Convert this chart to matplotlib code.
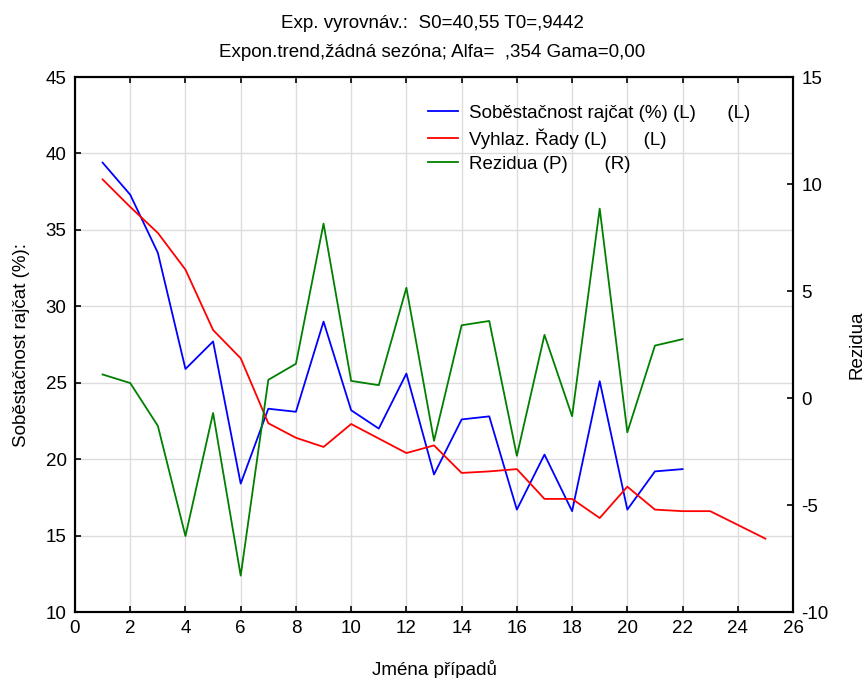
import numpy as np
import matplotlib.pyplot as plt

plt.rcParams['font.family'] = ['Liberation Sans', 'DejaVu Sans']
plt.rcParams['axes.unicode_minus'] = False

# data
x_obs = np.arange(1, 23)
x_smooth = np.arange(1, 26)
sobestacnost = [39.4, 37.3, 33.5, 25.9, 27.7, 18.4, 23.3, 23.1, 29.0, 23.2, 22.0,
                25.6, 19.0, 22.6, 22.8, 16.7, 20.3, 16.6, 25.1, 16.7, 19.2, 19.35]
vyhlaz = [38.3, 36.5, 34.8, 32.4, 28.45, 26.6, 22.35, 21.4, 20.8, 22.3, 21.35, 20.4,
          20.9, 19.1, 19.2, 19.35, 17.4, 17.4, 16.15, 18.2, 16.7, 16.6, 16.6, 15.7, 14.8]
rezidua = [1.1, 0.7, -1.3, -6.45, -0.7, -8.3, 0.85, 1.6, 8.15, 0.8, 0.6, 5.15,
           -2.0, 3.4, 3.6, -2.7, 2.95, -0.85, 8.85, -1.6, 2.45, 2.75]

fs = 13.5

fig = plt.figure(figsize=(8.65, 6.78), dpi=100)
ax = fig.add_axes([0.0867, 0.0973, 0.8301, 0.7891])
ax2 = ax.twinx()

l1, = ax.plot(x_obs, sobestacnost, color='#0000ff', lw=1.3,
              label='Soběstačnost rajčat (%) (L)      (L)')
l2, = ax.plot(x_smooth, vyhlaz, color='#ff0000', lw=1.3,
              label='Vyhlaz. Řady (L)       (L)')
l3, = ax2.plot(x_obs, rezidua, color='#008000', lw=1.3,
               label='Rezidua (P)       (R)')

ax.set_xlim(0, 26)
ax.set_ylim(10, 45)
ax2.set_ylim(-10, 15)
ax.set_xticks(np.arange(0, 27, 2))
ax.set_yticks(np.arange(10, 46, 5))
ax2.set_yticks(np.arange(-10, 16, 5))

ax.grid(True, color='#dcdcdc', lw=1)
ax.set_axisbelow(True)
ax.tick_params(direction='in', top=True, length=4, width=1.2, labelsize=fs, pad=6)
ax2.tick_params(direction='in', length=4, width=1.2, labelsize=fs, pad=6)
for a in (ax, ax2):
    for s in a.spines.values():
        s.set_linewidth(1.5)

ax.set_xlabel('Jména případů', fontsize=fs, labelpad=16)
ax.set_ylabel('Soběstačnost rajčat (%):', fontsize=fs, labelpad=11)
ax2.set_ylabel('Rezidua', fontsize=fs, labelpad=14)

fig.text(0.5, 0.966, 'Exp. vyrovnáv.:  S0=40,55 T0=,9442', ha='center', va='center', fontsize=fs)
fig.text(0.5, 0.922, 'Expon.trend,žádná sezóna; Alfa=  ,354 Gama=0,00', ha='center', va='center', fontsize=fs)

ax.legend(handles=[l1, l2, l3], loc='upper left', bbox_to_anchor=(0.4916, 0.948),
          frameon=False, fontsize=fs, handlelength=1.6, handletextpad=0.6,
          labelspacing=0.35, borderaxespad=0, borderpad=0)

fig.savefig('out.png', dpi=100)
